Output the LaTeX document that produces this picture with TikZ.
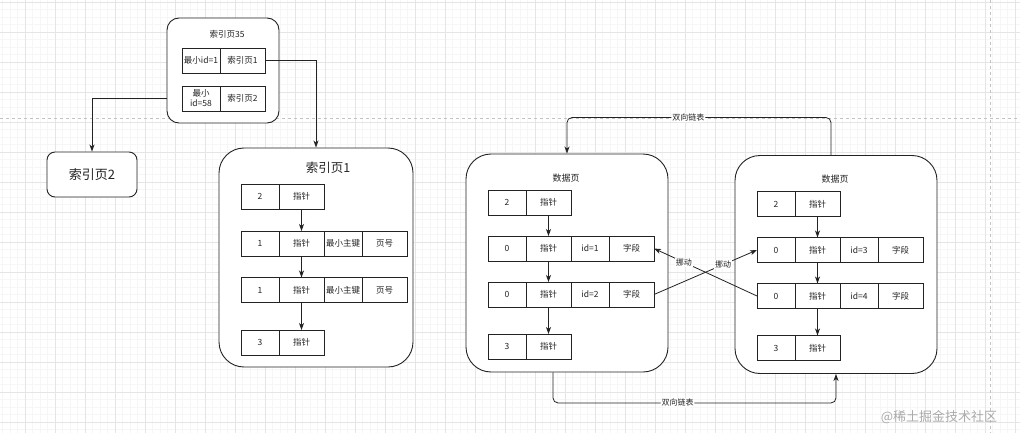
\documentclass[tikz,border=0pt]{standalone}
\usepackage{fontspec}
\setmainfont{Noto Sans CJK SC}
\usepackage{tikz}
\usetikzlibrary{arrows.meta,positioning,calc}
\definecolor{inkgrey}{RGB}{35,35,35}
\definecolor{gridminor}{RGB}{246,246,246}
\definecolor{gridmajor}{RGB}{229,229,229}
\definecolor{pagebreak}{RGB}{195,195,195}
\definecolor{marktext}{RGB}{170,170,170}
\tikzset{
  base/.style={font=\fontsize{8.5}{10}\selectfont, text=inkgrey, align=center, inner sep=0pt},
  cell/.style={base, rectangle, draw=inkgrey, fill=white, line width=0.8pt, outer sep=0pt, minimum height=25},
  page/.style={base, rectangle, draw=inkgrey, fill=white, line width=0.9pt, rounded corners=25pt},
  title/.style={base, font=\fontsize{12.5}{14}\selectfont},
  arr/.style={-{Stealth[length=7pt,width=5pt,inset=2pt]}, line width=0.8pt, draw=inkgrey},
  lbl/.style={base, font=\fontsize{8}{9}\selectfont, fill=white, inner sep=1pt},
  gridmin/.style={draw=gridminor, line width=0.5pt},
  gridmaj/.style={draw=gridmajor, line width=0.6pt},
}
% one row of cells, widths 38/45/38/45
\newcommand{\cellrow}[4]{%
  \foreach \t [count=\k] in {#4}{
    \pgfmathsetmacro{\off}{{0,38,83,121}[\k-1]}
    \pgfmathsetmacro{\w}{{38,45,38,45}[\k-1]}
    \node[cell, minimum width=\w, anchor=west] (#1\k) at ({#2+\off},#3) {\t};
  }}

\begin{document}
\begin{tikzpicture}[x=1pt,y=-1pt]
  \useasboundingbox (0,0) rectangle (1020,433);
  \fill[white] (0,0) rectangle (1020,433);
  % background grid
  \foreach \x in {2.5,10,...,1020}{\draw[gridmin] (\x,0) -- (\x,433);}
  \foreach \y in {2,9.5,...,433}{\draw[gridmin] (0,\y) -- (1020,\y);}
  \foreach \x in {25,55,...,1015}{\draw[gridmaj] (\x,0) -- (\x,433);}
  \foreach \y in {2,32,...,422}{\draw[gridmaj] (0,\y) -- (1020,\y);}
  \draw[pagebreak, dashed, line width=0.6pt] (0,118) -- (1020,118);
  \draw[pagebreak, dashed, line width=0.6pt] (990,0) -- (990,433);

  % index page 35
  \node[page, rounded corners=12pt, minimum width=112, minimum height=105] (idx35) at (223,70.5) {};
  \node[base] (idx35t) at (227,34) {索引页35};
  \cellrow{i35a}{182}{60.5}{最小id=1,索引页1}
  \cellrow{i35b}{182}{98.5}{{最小\\id=58},索引页2}

  % index page 2
  \node[page, rounded corners=8pt, minimum width=90, minimum height=45, font=\fontsize{13}{15}\selectfont] (idx2) at (92,174.5) {索引页2};

  % index page 1
  \node[page, minimum width=194, minimum height=219] (idx1) at (316,257.5) {};
  \node[title] (idx1t) at (328,168) {索引页1};
  \cellrow{ipr1}{241}{196.5}{2,指针}
  \cellrow{ipr2}{241}{243.5}{1,指针,最小主键,页号}
  \cellrow{ipr3}{241}{290}{1,指针,最小主键,页号}
  \cellrow{ipr4}{241}{342.5}{3,指针}
  \draw[arr] (ipr12.south) -- (ipr22.north);
  \draw[arr] (ipr22.south) -- (ipr32.north);
  \draw[arr] (ipr32.south) -- (ipr42.north);

  % data pages
  \foreach \p/\dx/\dy/\ia/\ib in {L/0/0/1/2,R/269/1.5/3/4}{
    \begin{scope}[shift={(\dx,\dy)}]
      \node[page, minimum width=202, minimum height=218] (data\p) at (567,263) {};
      \node[base, font=\fontsize{9}{11}\selectfont] (data\p t) at (566,178) {数据页};
      \cellrow{data\p1}{488}{202.5}{2,指针}
      \cellrow{data\p2}{488}{248.5}{0,指针,id=\ia,字段}
      \cellrow{data\p3}{488}{294.5}{0,指针,id=\ib,字段}
      \cellrow{data\p4}{488}{346.5}{3,指针}
      \draw[arr] (data\p12.south) -- (data\p22.north);
      \draw[arr] (data\p22.south) -- (data\p32.north);
      \draw[arr] (data\p32.south) -- (data\p42.north);
    \end{scope}
  }

  % links
  \draw[arr] (i35a2.east) -| (idx1.north);
  \draw[arr] (i35b1.west -| idx35.west) -| (idx2.north);
  \draw[arr, rounded corners=5pt] ([xshift=-5pt]dataR.north) |- node[lbl, pos=0.77] {双向链表} ($(dataL.north)+(0,-36)$) -- (dataL.north);
  \draw[arr, rounded corners=5pt] ([xshift=-14pt]dataL.south) |- node[lbl, pos=0.72] {双向链表} ($(dataR.south)+(0,29)$) -- (dataR.south);
  \draw[arr] (dataL34.east) -- node[lbl, pos=0.67] {挪动} (dataR21.west);
  \draw[arr] (dataR31.west) -- node[lbl, pos=0.71] {挪动} (dataL24.east);

  \node[base, font=\fontsize{13}{15}\selectfont, text=marktext] (mark) at (939,417) {@稀土掘金技术社区};
\end{tikzpicture}
\end{document}
